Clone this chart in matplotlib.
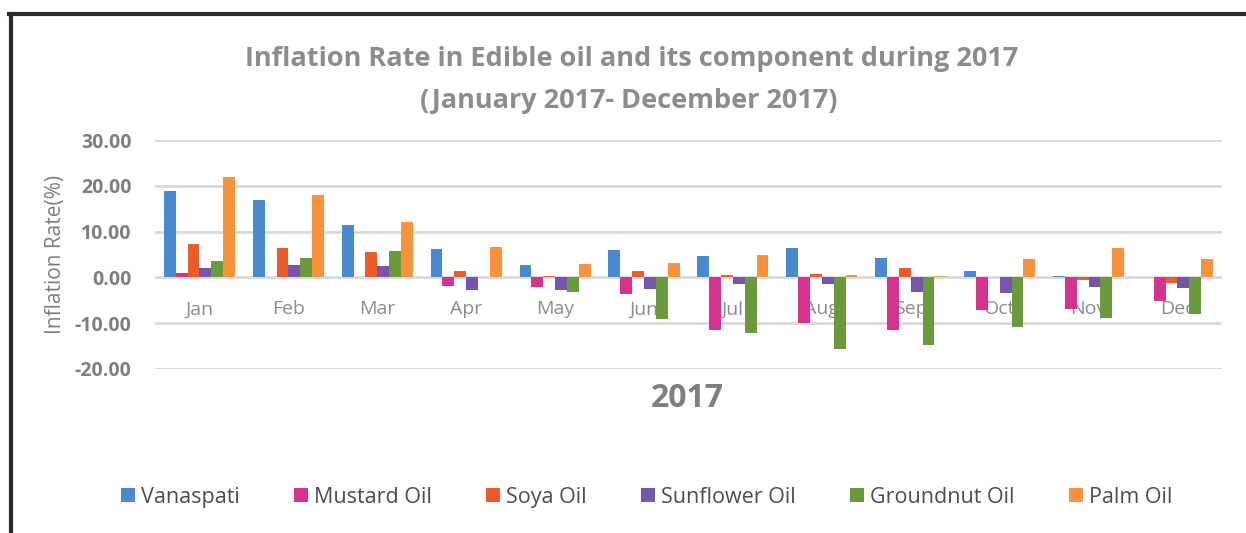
import matplotlib.pyplot as plt
from matplotlib.lines import Line2D
import numpy as np

months = ["Jan", "Feb", "Mar", "Apr", "May", "Jun", "Jul", "Aug", "Sep", "Oct", "Nov", "Dec"]
series = ["Vanaspati", "Mustard Oil", "Soya Oil", "Sunflower Oil", "Groundnut Oil", "Palm Oil"]

vanaspati = [18.9, 16.9, 11.5, 6.2, 2.6, 5.9, 4.6, 6.5, 4.3, 1.5, 0.2, 0.1]
mustard = [1.0, 0.1, 0.0, -1.9, -2.1, -3.7, -11.5, -10.0, -11.4, -7.2, -6.8, -5.2]
soya = [7.2, 6.4, 5.5, 1.5, 0.3, 1.5, 0.6, 0.7, 2.0, 0.1, -0.5, -1.3]
sunflower = [2.1, 2.6, 2.4, -2.8, -2.7, -2.5, -1.5, -1.5, -3.2, -3.4, -2.0, -2.4]
groundnut = [3.5, 4.3, 5.7, 0.0, -3.2, -9.1, -12.1, -15.6, -14.8, -10.8, -8.9, -8.0]
palm = [22.0, 18.0, 12.0, 6.6, 3.0, 3.2, 5.0, 0.6, 0.4, 4.0, 6.5, 4.1]

values = [vanaspati, mustard, soya, sunflower, groundnut, palm]
colors = ["#4a89d0", "#d6338e", "#ee5b2a", "#7656ad", "#6b9a3c", "#f7923f"]

fig = plt.figure(figsize=(12.46, 5.33), dpi=100)
ax = fig.add_axes([0.1244, 0.3077, 0.8563, 0.4296])

x = np.arange(len(months))
w = 1 / 7.5
for i in range(len(series)):
    ax.bar(x + (i - 2.5) * w, values[i], w, color=colors[i], label=series[i], zorder=3)

ax.set_xlim(-0.5, 11.5)
ax.set_ylim(-20, 30)
ax.set_yticks([-20, -10, 0, 10, 20, 30])
ax.set_yticklabels(["%.2f" % v for v in [-20, -10, 0, 10, 20, 30]],
                   fontsize=14, fontweight="bold", color="#7f7f7f", family="Open Sans")
ax.tick_params(axis="y", length=0, pad=17)
ax.set_xticks([])
ax.grid(axis="y", color="#d9d9d9", linewidth=2, zorder=0)
for s in ax.spines.values():
    s.set_visible(False)

# month names sit just under the zero line, behind the bars
for i, m in enumerate(months):
    ax.text(i, -7.0, m, ha="center", va="center", fontsize=14, color="#8c8c8c",
            family="Open Sans", zorder=1)

ax.set_ylabel("Inflation Rate(%)", fontsize=15, color="#7f7f7f", family="Open Sans", labelpad=6)

fig.text(0.507, 0.89, "Inflation Rate in Edible oil and its component during 2017",
         ha="center", va="center", fontsize=19.5, fontweight="bold", color="#8c8c8c", family="Open Sans")
fig.text(0.505, 0.81, "(January 2017- December 2017)",
         ha="center", va="center", fontsize=19.5, fontweight="bold", color="#8c8c8c", family="Open Sans")
fig.text(0.552, 0.252, "2017", ha="center", va="center", fontsize=23, fontweight="bold",
         color="#7f7f7f", family="Open Sans")

leg = fig.legend(loc="center", bbox_to_anchor=(0.519, 0.067), ncol=6, frameon=False,
                 handlelength=0.65, handleheight=0.65, handletextpad=0.3, columnspacing=2.5,
                 prop={"family": "Open Sans", "size": 15.5})
for t in leg.get_texts():
    t.set_color("#4d4d4d")

# dark frame on top and left like the screenshot
fig.add_artist(Line2D([0.007, 1.0], [0.9737, 0.9737], color="#2a2a2a", linewidth=3, transform=fig.transFigure))
fig.add_artist(Line2D([0.0088, 0.0088], [0.0, 0.9737], color="#2a2a2a", linewidth=3, transform=fig.transFigure))

fig.savefig("out.png", dpi=100)
